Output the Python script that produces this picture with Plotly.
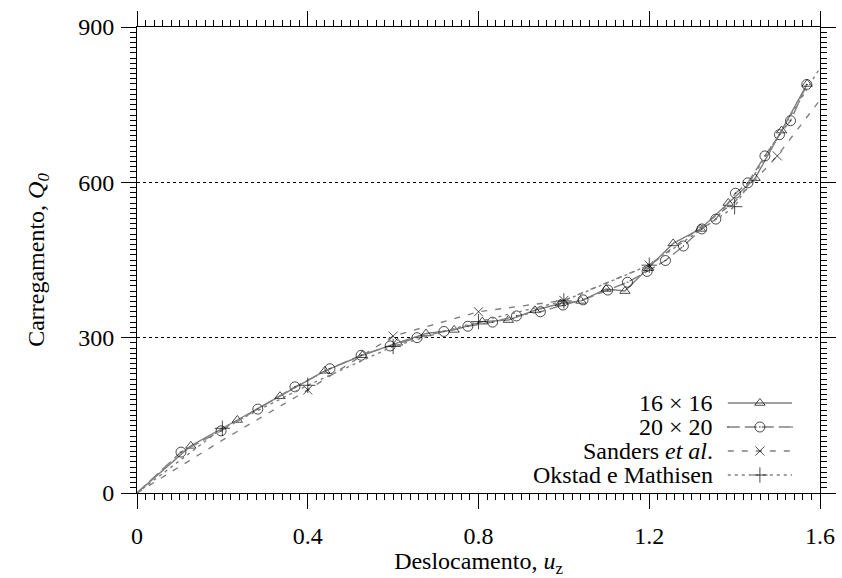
import plotly.graph_objects as go

# ---------------- data ----------------
u_16 = [0, 0.126, 0.235, 0.335, 0.440, 0.528, 0.610, 0.677, 0.743, 0.809, 0.870, 0.932,
        0.992, 1.040, 1.099, 1.143, 1.198, 1.256, 1.320, 1.385, 1.448, 1.510, 1.570]
q_16 = [0, 91, 141, 187, 236, 266, 290, 308, 315, 331, 334, 353,
        366, 371, 394, 390, 434, 482, 510, 560, 608, 700, 790]

u_20 = [0, 0.103, 0.197, 0.283, 0.370, 0.452, 0.525, 0.593, 0.656, 0.719, 0.775, 0.833,
        0.889, 0.945, 0.998, 1.045, 1.103, 1.149, 1.195, 1.238, 1.280, 1.323, 1.356,
        1.402, 1.431, 1.471, 1.505, 1.531, 1.569]
q_20 = [0, 79, 120, 162, 205, 240, 266, 284, 300, 312, 322, 330,
        342, 350, 363, 373, 392, 407, 428, 449, 477, 510, 529,
        579, 599, 651, 692, 719, 789]

u_sanders = [0, 0.2, 0.4, 0.6, 0.8, 1.0, 1.2, 1.4, 1.5, 1.6]
q_sanders = [0, 102, 199, 303, 350, 372, 440, 562, 651, 759]
mark_sanders = [0, 0, 1, 1, 1, 1, 1, 0, 1, 0]

u_okstad = [0, 0.2, 0.4, 0.6, 0.8, 1.0, 1.2, 1.4, 1.6]
q_okstad = [0, 125, 208, 283, 331, 371, 440, 553, 821]
mark_okstad = [0, 1, 1, 1, 1, 1, 1, 1, 0]

x_ticks = [0, 0.4, 0.8, 1.2, 1.6]
x_ticktext = ["0", "0.4", "0.8", "1.2", "1.6"]
y_ticks = [0, 300, 600, 900]

series_names = ["16 × 16", "20 × 20", "Sanders <i>et al</i>.", "Okstad e Mathisen"]

# ---------------- styles ----------------
FONT = "Liberation Serif"
LINE_GRAY = "#808080"
styles = [
    dict(dash="solid", symbol="triangle-up-open", size=9),
    dict(dash="12px,5px", symbol="circle-open-dot", size=10),
    dict(dash="6px,8px", symbol="x-thin-open", size=9),
    dict(dash="3px,4px", symbol="cross-thin-open", size=11),
]

fig = go.Figure()

def add_series(u, q, st, sizes=None):
    fig.add_trace(go.Scatter(
        x=u, y=q, mode="lines+markers",
        line=dict(color=LINE_GRAY, width=1.4, dash=st["dash"]),
        marker=dict(symbol=st["symbol"], size=sizes if sizes is not None else st["size"],
                    color="black", line=dict(color="black", width=1)),
        showlegend=False, hoverinfo="skip"))

add_series(u_16, q_16, styles[0], [0] + [styles[0]["size"]] * (len(u_16) - 1))
add_series(u_20, q_20, styles[1], [0] + [styles[1]["size"]] * (len(u_20) - 1))
add_series(u_sanders, q_sanders, styles[2], [styles[2]["size"] * m for m in mark_sanders])
add_series(u_okstad, q_okstad, styles[3], [styles[3]["size"] * m for m in mark_okstad])

# ---------------- manual legend (text left, sample right) ----------------
leg_rows = [0.1931, 0.1416, 0.0901, 0.0386]
leg_x0, leg_xm, leg_x1 = 0.865, 0.912, 0.959
for name, st, yr in zip(series_names, styles, leg_rows):
    fig.add_trace(go.Scatter(
        x=[leg_x0, leg_xm, leg_x1], y=[yr, yr, yr], mode="lines+markers",
        xaxis="x2", yaxis="y2",
        line=dict(color=LINE_GRAY, width=1.4, dash=st["dash"]),
        marker=dict(symbol=st["symbol"], size=[0, st["size"], 0], color="black",
                    line=dict(color="black", width=1)),
        showlegend=False, hoverinfo="skip"))
    fig.add_annotation(x=0.845, y=yr, xref="x2", yref="y2", text=name, showarrow=False,
                       xanchor="right", yanchor="middle", height=22, borderpad=0,
                       font=dict(family=FONT, size=24, color="black"))

axis_common = dict(
    showline=True, linecolor="black", linewidth=1, mirror="ticks",
    ticks="outside", ticklen=15, tickwidth=1, tickcolor="black",
    zeroline=False, automargin=False,
    tickfont=dict(family=FONT, size=24, color="black"),
)

fig.update_layout(
    width=842, height=578,
    margin=dict(l=137, r=22, t=27, b=85),
    paper_bgcolor="white", plot_bgcolor="white",
    font=dict(family=FONT, size=24, color="black"),
    xaxis=dict(
        range=[0, 1.6], tickvals=x_ticks, ticktext=x_ticktext, showgrid=False,
        minor=dict(dtick=0.02, ticks="outside", ticklen=6, tickcolor="black", tickwidth=1, showgrid=False),
        title=dict(text="Deslocamento, <i>u</i><sub>z</sub>", standoff=6,
                   font=dict(family=FONT, size=24)),
        ticklabelstandoff=6,
        **axis_common),
    yaxis=dict(
        range=[0, 900], tickvals=y_ticks, showgrid=True, gridcolor="black",
        griddash="dot", gridwidth=1,
        minor=dict(dtick=10, ticks="outside", ticklen=6, tickcolor="black", tickwidth=1, showgrid=False),
        title=dict(text="Carregamento, <i>Q<sub>0</sub></i>", standoff=26,
                   font=dict(family=FONT, size=24)),
        ticklabelstandoff=2,
        **axis_common),
    xaxis2=dict(overlaying="x", range=[0, 1], visible=False, fixedrange=True),
    yaxis2=dict(overlaying="y", range=[0, 1], visible=False, fixedrange=True),
)

fig.write_html("out.html")
